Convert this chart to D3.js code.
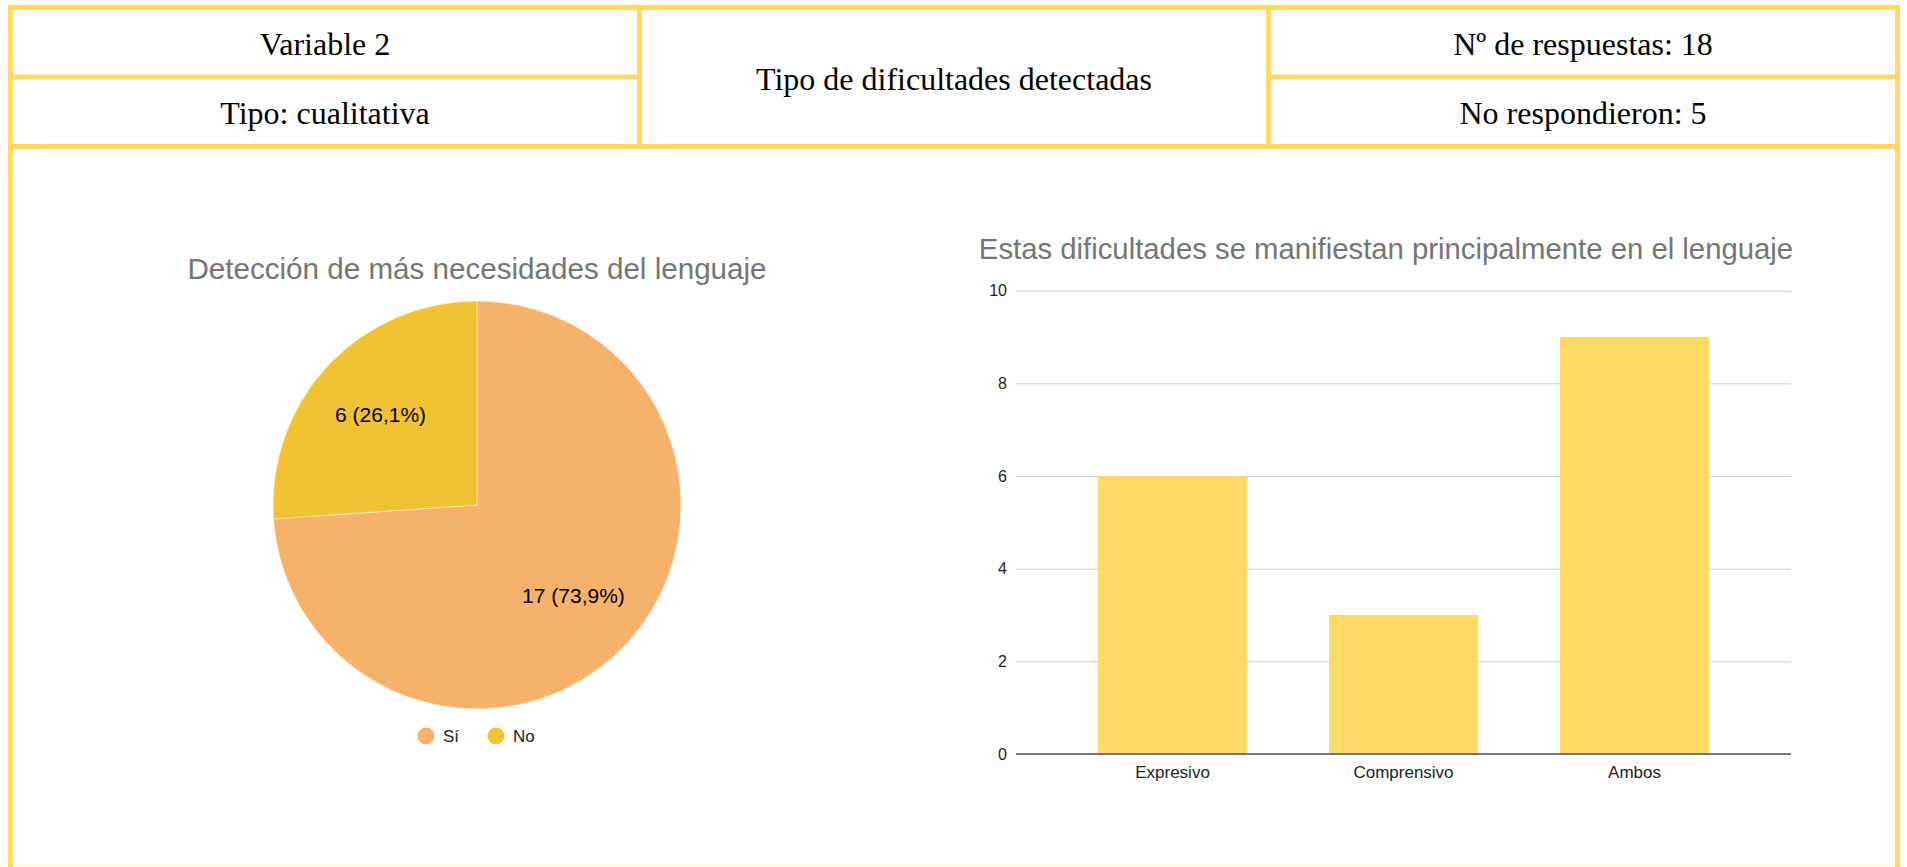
<!DOCTYPE html>
<html>
<head>
<meta charset="utf-8">
<script src="https://cdn.jsdelivr.net/npm/d3@7"></script>
<style>
  html, body { margin: 0; padding: 0; background: #ffffff; }
  svg { display: block; }
</style>
</head>
<body>
<svg id="chart" width="1907" height="867"></svg>
<script>
// ---------- data ----------
const headerLeft = ["Variable 2", "Tipo: cualitativa"];
const headerCenter = ["Tipo de dificultades detectadas"];
const headerRight = ["Nº de respuestas: 18", "No respondieron: 5"];

const pieTitle = "Detección de más necesidades del lenguaje";
const pieCategories = ["Sí", "No"];
const pieValues = [17, 6];
const pieColors = ["#F6B26B", "#F1C232"];

const barTitle = "Estas dificultades se manifiestan principalmente en el lenguaje";
const barCategories = ["Expresivo", "Comprensivo", "Ambos"];
const barValues = [6, 3, 9];
const barTicks = [0, 2, 4, 6, 8, 10];
const barColor = "#FFD966";

// ---------- drawing ----------
const svg = d3.select("#chart");
const border = "#FFD966";
const bw = 5;

// header table lines
const hLines = [
  {x1: 8, x2: 1900, y: 7.5},
  {x1: 8, x2: 642, y: 77},
  {x1: 1266, x2: 1900, y: 77},
  {x1: 8, x2: 1900, y: 146.5}
];
const vLines = [
  {x: 10.5, y1: 5, y2: 867},
  {x: 1897.5, y1: 5, y2: 867},
  {x: 639.5, y1: 5, y2: 149},
  {x: 1268.5, y1: 5, y2: 149}
];
svg.append("line").attr("x1", 8).attr("x2", 1900).attr("y1", 865.5).attr("y2", 865.5)
  .attr("stroke", "#FFF2CC").attr("stroke-width", 1.5);
svg.selectAll("line.h").data(hLines).enter().append("line")
  .attr("x1", d => d.x1).attr("x2", d => d.x2).attr("y1", d => d.y).attr("y2", d => d.y)
  .attr("stroke", border).attr("stroke-width", bw);
svg.selectAll("line.v").data(vLines).enter().append("line")
  .attr("x1", d => d.x).attr("x2", d => d.x).attr("y1", d => d.y1).attr("y2", d => d.y2)
  .attr("stroke", border).attr("stroke-width", bw);

const serif = "'Liberation Serif', 'Times New Roman', serif";
const hdr = [
  {t: headerLeft[0], x: 325, y: 44},
  {t: headerLeft[1], x: 325, y: 113},
  {t: headerCenter[0], x: 954, y: 79},
  {t: headerRight[0], x: 1583, y: 44},
  {t: headerRight[1], x: 1583, y: 113}
];
svg.selectAll("text.hdr").data(hdr).enter().append("text")
  .attr("class", "hdr")
  .attr("x", d => d.x).attr("y", d => d.y)
  .attr("text-anchor", "middle").attr("dominant-baseline", "central")
  .attr("font-family", serif).attr("font-size", 32).attr("fill", "#000")
  .text(d => d.t);

const sans = "Arial, 'Liberation Sans', sans-serif";

// ---------- pie ----------
const pcx = 477, pcy = 505, pr = 204;
svg.append("text").attr("x", pcx).attr("y", 279)
  .attr("text-anchor", "middle").attr("font-family", sans)
  .attr("font-size", 29.6).attr("fill", "#757575").text(pieTitle);

const pieData = pieCategories.map((c, i) => ({cat: c, value: pieValues[i], color: pieColors[i]}));
const total = d3.sum(pieValues);
const pie = d3.pie().sort(null).value(d => d.value);
const arc = d3.arc().innerRadius(0).outerRadius(pr);
const labelArc = d3.arc().innerRadius(132).outerRadius(132);
const pg = svg.append("g").attr("transform", `translate(${pcx},${pcy})`);
const arcs = pie(pieData);
pg.selectAll("path").data(arcs).enter().append("path")
  .attr("d", arc).attr("fill", d => d.data.color)
  .attr("stroke", "#ffffff").attr("stroke-width", 0.5);
pg.selectAll("text").data(arcs).enter().append("text")
  .attr("transform", d => `translate(${labelArc.centroid(d)})`)
  .attr("text-anchor", "middle").attr("dominant-baseline", "central")
  .attr("font-family", sans).attr("font-size", 21).attr("fill", "#000")
  .text(d => `${d.data.value} (${(d.data.value / total * 100).toFixed(1).replace(".", ",")}%)`);

// legend
const legendX = d3.scalePoint().domain(pieCategories).range([426, 496]);
const lg = svg.selectAll("g.leg").data(pieData).enter().append("g")
  .attr("transform", d => `translate(${legendX(d.cat)},736)`);
lg.append("circle").attr("r", 8.5).attr("fill", d => d.color);
lg.append("text").attr("x", 17).attr("y", 0).attr("dominant-baseline", "central")
  .attr("font-family", sans).attr("font-size", 17).attr("fill", "#222").text(d => d.cat);

// ---------- bar chart ----------
const x0 = 1016, x1 = 1791, yb = 754, yt = 290.7;
svg.append("text").attr("x", 1386).attr("y", 259)
  .attr("text-anchor", "middle").attr("font-family", sans)
  .attr("font-size", 29.3).attr("fill", "#757575").text(barTitle);

const x = d3.scaleBand().domain(barCategories).range([x0, x1]).paddingInner(0.355).paddingOuter(0.355);
const y = d3.scaleLinear().domain([0, 10]).range([yb, yt]);

const yAxis = d3.axisLeft(y).tickValues(barTicks).tickSize(-(x1 - x0)).tickPadding(9);
const gy = svg.append("g").attr("transform", `translate(${x0},0)`).call(yAxis);
gy.select(".domain").remove();
gy.selectAll(".tick line").attr("stroke", "#cccccc").attr("stroke-width", 1);
gy.selectAll(".tick text").attr("font-family", sans).attr("font-size", 16).attr("fill", "#222");

svg.selectAll("rect.bar").data(barCategories).enter().append("rect")
  .attr("class", "bar")
  .attr("x", d => x(d)).attr("width", x.bandwidth())
  .attr("y", (d, i) => y(barValues[i])).attr("height", (d, i) => yb - y(barValues[i]))
  .attr("fill", barColor);

const xAxis = d3.axisBottom(x).tickSize(0).tickPadding(12);
const gx = svg.append("g").attr("transform", `translate(0,${yb})`).call(xAxis);
gx.select(".domain").attr("d", `M${x0},0H${x1}`).attr("stroke", "#555").attr("stroke-width", 1.5);
gx.selectAll(".tick text").attr("font-family", sans).attr("font-size", 17).attr("fill", "#222");
</script>
</body>
</html>
